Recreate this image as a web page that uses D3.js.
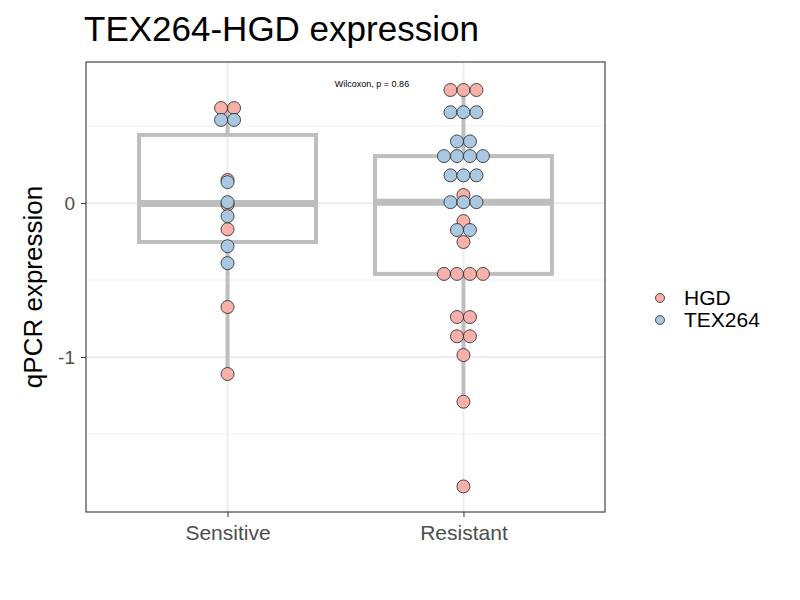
<!DOCTYPE html>
<html><head><meta charset="utf-8">
<script src="https://cdn.jsdelivr.net/npm/d3@7"></script>
<style>body{margin:0;background:#fff}</style>
</head><body>
<svg id="chart" width="800" height="600"></svg>
<script>
// categories and series
const groups = ["Sensitive", "Resistant"];
const genes = ["HGD", "TEX264"];
const colors = {HGD: "#f8b0ab", TEX264: "#abc8e2"};
const sensHGD = [0.617, 0.617, 0.15, -0.01, -0.17, -0.675, -1.11];
const sensTEX = [0.54, 0.54, 0.136, 0.006, -0.085, -0.28, -0.39];
const resHGD = [0.734, 0.734, 0.734, 0.052, -0.117, -0.253, -0.46, -0.46, -0.46, -0.46,
  -0.74, -0.74, -0.865, -0.865, -0.987, -1.29, -1.84];
const resTEX = [0.59, 0.59, 0.59, 0.40, 0.40, 0.305, 0.305, 0.305, 0.305,
  0.18, 0.18, 0.18, 0.006, 0.006, 0.006, -0.175, -0.175];
const yTicks = [0, -1];
const yGrid = [0.5, -0.5, -1.5];

const series = {
  Sensitive: {HGD: sensHGD, TEX264: sensTEX},
  Resistant: {HGD: resHGD, TEX264: resTEX}
};

const svg = d3.select("#chart");
const margin = {top: 62, left: 86, right: 195, bottom: 88};
const W = 800, H = 600;
const font = "Liberation Sans, Arial";

const x = d3.scalePoint().domain(groups).range([margin.left, W - margin.right]).padding(0.6);
const y = d3.scaleLinear().domain([-2.006, 0.916]).range([H - margin.bottom, margin.top]);
const step = x.step();

// grid
const g = svg.append("g");
g.selectAll(".gy").data(yGrid.concat(yTicks)).join("line")
  .attr("x1", margin.left).attr("x2", W - margin.right)
  .attr("y1", d => y(d)).attr("y2", d => y(d))
  .attr("stroke", d => yTicks.includes(d) ? "#ebebeb" : "#f2f2f2")
  .attr("stroke-width", d => yTicks.includes(d) ? 1.8 : 1.1);
g.selectAll(".gx").data(groups).join("line")
  .attr("x1", d => x(d)).attr("x2", d => x(d))
  .attr("y1", margin.top).attr("y2", H - margin.bottom)
  .attr("stroke", "#ebebeb").attr("stroke-width", 1.8);

// boxplots
const boxW = step * 0.75;
groups.forEach(grp => {
  const vals = series[grp].HGD.concat(series[grp].TEX264).sort(d3.ascending);
  const q1 = d3.quantile(vals, 0.25), med = d3.quantile(vals, 0.5), q3 = d3.quantile(vals, 0.75);
  const iqr = q3 - q1;
  const lo = d3.min(vals.filter(v => v >= q1 - 1.5 * iqr));
  const hi = d3.max(vals.filter(v => v <= q3 + 1.5 * iqr));
  const cx = x(grp);
  const b = svg.append("g").attr("stroke", "#bebebe").attr("fill", "none");
  b.append("line").attr("x1", cx).attr("x2", cx).attr("y1", y(hi)).attr("y2", y(q3)).attr("stroke-width", 4);
  b.append("line").attr("x1", cx).attr("x2", cx).attr("y1", y(q1)).attr("y2", y(lo)).attr("stroke-width", 4);
  b.append("rect").attr("x", cx - boxW / 2).attr("width", boxW)
    .attr("y", y(q3)).attr("height", y(q1) - y(q3)).attr("stroke-width", 4).attr("fill", "none");
  b.append("line").attr("x1", cx - boxW / 2).attr("x2", cx + boxW / 2)
    .attr("y1", y(med)).attr("y2", y(med)).attr("stroke-width", 7);
});

// dots: points with the same value sit side by side, centred
const r = 6.5, dx = 13;
groups.forEach(grp => {
  const pts = [];
  genes.forEach(gene => series[grp][gene].forEach(v => pts.push({gene, v})));
  const byVal = d3.group(pts, d => d.gene + d.v);
  const placed = [];
  byVal.forEach(arr => arr.forEach((p, i) => placed.push({...p, off: (i - (arr.length - 1) / 2) * dx})));
  // draw HGD first so TEX264 sits on top, as in the picture
  placed.sort((a, b) => genes.indexOf(a.gene) - genes.indexOf(b.gene));
  svg.append("g").selectAll("circle").data(placed).join("circle")
    .attr("cx", d => x(grp) + d.off).attr("cy", d => y(d.v)).attr("r", r)
    .attr("fill", d => colors[d.gene]).attr("stroke", "#222").attr("stroke-width", 0.8);
});

// panel border
svg.append("rect").attr("x", margin.left).attr("y", margin.top)
  .attr("width", W - margin.right - margin.left).attr("height", H - margin.bottom - margin.top)
  .attr("fill", "none").attr("stroke", "#333").attr("stroke-width", 1.1);

// axes
const xAxis = svg.append("g").attr("transform", `translate(0,${H - margin.bottom})`)
  .call(d3.axisBottom(x).tickSize(5).tickPadding(8));
xAxis.select(".domain").remove();
xAxis.selectAll("line").attr("stroke", "#333");
xAxis.selectAll("text").attr("font-size", 21).attr("fill", "#4d4d4d").attr("font-family", font);

const yAxis = svg.append("g").attr("transform", `translate(${margin.left},0)`)
  .call(d3.axisLeft(y).tickValues(yTicks).tickFormat(d => String(d)).tickSize(5).tickPadding(6));
yAxis.select(".domain").remove();
yAxis.selectAll("line").attr("stroke", "#333");
yAxis.selectAll("text").attr("font-size", 19).attr("fill", "#4d4d4d").attr("font-family", font);

svg.append("text").attr("x", 84).attr("y", 41).text("TEX264-HGD expression")
  .attr("font-size", 35).attr("font-family", font);
svg.append("text").attr("transform", `translate(42,${(margin.top + H - margin.bottom) / 2}) rotate(-90)`)
  .attr("text-anchor", "middle").text("qPCR expression").attr("font-size", 26).attr("font-family", font);
svg.append("text").attr("x", 372).attr("y", 87).attr("text-anchor", "middle")
  .text("Wilcoxon, p = 0.86").attr("font-size", 9).attr("font-family", font);

// legend
const leg = svg.append("g").attr("transform", "translate(660,298)");
genes.forEach((gene, i) => {
  leg.append("circle").attr("cx", 0).attr("cy", i * 22).attr("r", 4.5)
    .attr("fill", colors[gene]).attr("stroke", "#222").attr("stroke-width", 0.8);
  leg.append("text").attr("x", 24).attr("y", i * 22 + 7).text(gene)
    .attr("font-size", 21).attr("font-family", font);
});
</script>
</body></html>
